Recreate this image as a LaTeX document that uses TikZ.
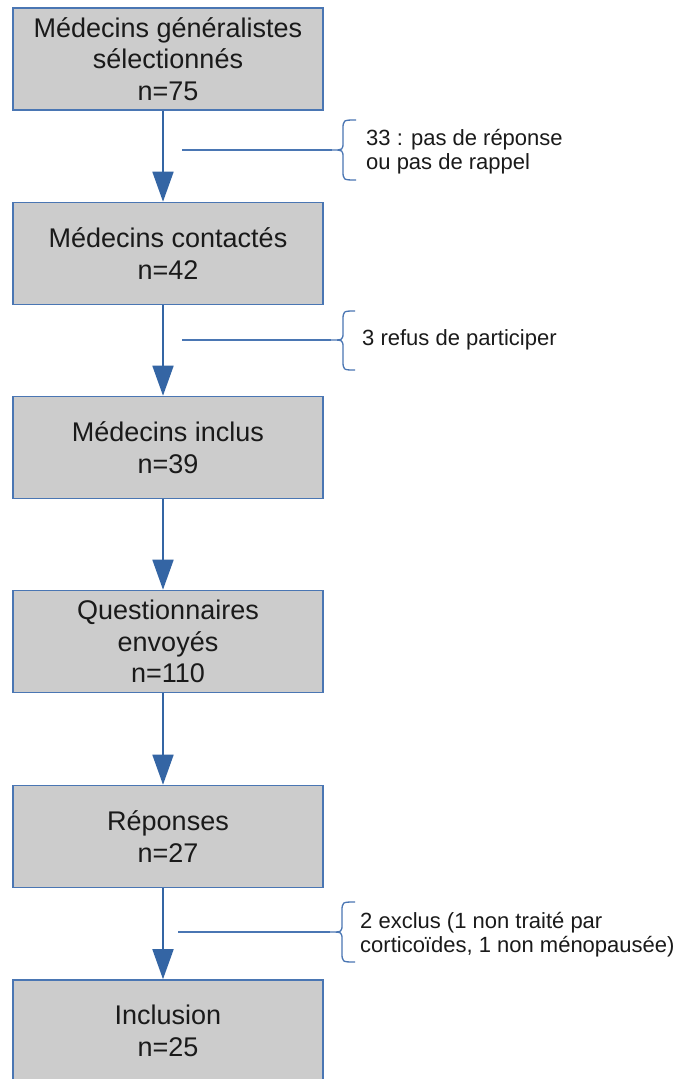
\documentclass[tikz,border=0pt]{standalone}
\usepackage{fontspec}
\setmainfont{Liberation Sans}
\usetikzlibrary{arrows.meta}
\definecolor{boxfill}{HTML}{CCCCCC}
\definecolor{edge}{HTML}{4A76B3}
\definecolor{arrowblue}{HTML}{3465A4}
\definecolor{txt}{HTML}{1A1A1A}
\begin{document}
\begin{tikzpicture}[x=1pt,y=-1pt,
  stage/.style={draw=edge, line width=1.6pt, fill=boxfill, minimum width=310pt, minimum height=102pt, inner sep=0pt, align=center, text=txt, font=\fontsize{27}{31.5}\selectfont},
  flow/.style={draw=arrowblue, line width=1.8pt, -{Triangle[length=30pt,width=21pt]}},
  note/.style={anchor=west, align=left, text=txt, inner sep=0pt, font=\fontsize{22}{24}\selectfont},
  curly/.style={draw=edge, line width=1.3pt},
  side/.style={draw=edge, line width=1.5pt}]
\useasboundingbox (0,0) rectangle (688,1079);
\fill[white] (0,0) rectangle (688,1079);

\node[stage] (b1) at (168,59) {Médecins généralistes\\sélectionnés\\n=75};
\node[stage] (b2) at (168,253.5) {Médecins contactés\\n=42};
\node[stage] (b3) at (168,447.5) {Médecins inclus\\n=39};
\node[stage] (b4) at (168,641.5) {Questionnaires\\envoyés\\n=110};
\node[stage] (b5) at (168,836.5) {Réponses\\n=27};
\node[stage] (b6) at (168,1031) {Inclusion\\n=25};

\draw[flow] ([xshift=-5pt]b1.south) -- ([xshift=-5pt]b2.north);
\draw[flow] ([xshift=-5pt]b2.south) -- ([xshift=-5pt]b3.north);
\draw[flow] ([xshift=-5pt]b3.south) -- ([xshift=-5pt]b4.north);
\draw[flow] ([xshift=-5pt]b4.south) -- ([xshift=-5pt]b5.north);
\draw[flow] ([xshift=-5pt]b5.south) -- ([xshift=-5pt]b6.north);

% side exits
\coordinate (s1a) at (182,150);
\coordinate (s1b) at (332,150);
\draw[side] (s1a) -- (s1b);
\draw[curly] (356,120) .. controls (343,120) .. (343,130) -- (343,142) .. controls (343,150) .. (332,150) .. controls (343,150) .. (343,158) -- (343,170) .. controls (343,180) .. (356,180);
\node[note] (t1) at (366,152) {33 : pas de réponse\\ou pas de rappel};

\coordinate (s2a) at (182,340);
\coordinate (s2b) at (331,340);
\draw[side] (s2a) -- (s2b);
\draw[curly] (355,311) .. controls (343,311) .. (343,321) -- (343,332) .. controls (343,340) .. (331,340) .. controls (343,340) .. (343,348) -- (343,360) .. controls (343,370) .. (355,370);
\node[note] (t2) at (362,340) {3 refus de participer};

\coordinate (s3a) at (178,932);
\coordinate (s3b) at (330,932);
\draw[side] (s3a) -- (s3b);
\draw[curly] (355,902) .. controls (342,902) .. (342,912) -- (342,924) .. controls (342,932) .. (330,932) .. controls (342,932) .. (342,940) -- (342,952) .. controls (342,962) .. (355,962);
\node[note] (t3) at (360,935) {2 exclus (1 non traité par\\corticoïdes, 1 non ménopausée)};
\end{tikzpicture}
\end{document}
